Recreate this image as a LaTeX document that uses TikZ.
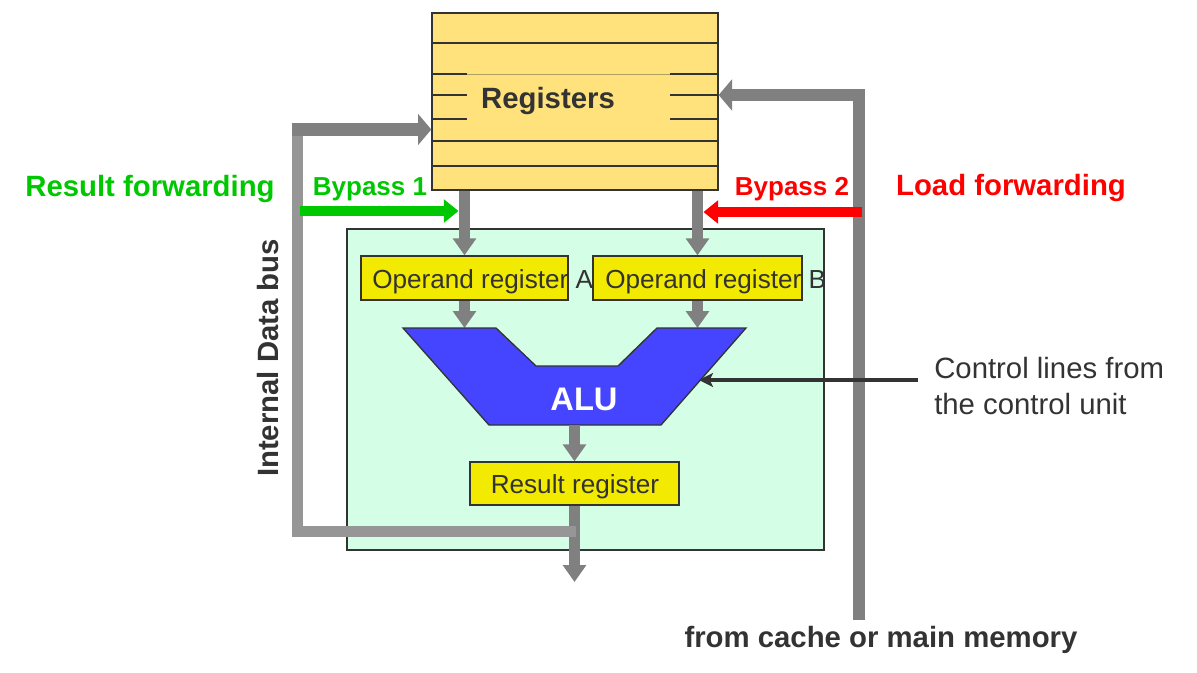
\documentclass[tikz,border=0pt]{standalone}
\usepackage{fontspec}
\setmainfont{Liberation Sans}
\usetikzlibrary{arrows.meta}
\definecolor{regfill}{HTML}{FFE27C}
\definecolor{regedge}{HTML}{B0A060}
\definecolor{opfill}{HTML}{F2EA00}
\definecolor{unitfill}{HTML}{D4FFE6}
\definecolor{alufill}{HTML}{4545FF}
\definecolor{pathgray}{HTML}{808080}
\definecolor{busgray}{HTML}{969696}
\definecolor{txtdark}{HTML}{333333}
\definecolor{fwdgreen}{HTML}{00C800}
\definecolor{fwdred}{HTML}{FF0000}
\newcommand\lblfont{\fontsize{22pt}{27pt}\selectfont\bfseries}
\newcommand\bypfont{\fontsize{19.5pt}{23pt}\selectfont\bfseries}
\newcommand\opfont{\fontsize{19.6pt}{23pt}\selectfont}
\newcommand\ctlfont{\fontsize{22pt}{27pt}\selectfont}
\newcommand\alufont{\fontsize{24.5pt}{29pt}\selectfont\bfseries}

\begin{document}
\begin{tikzpicture}[x=0.75pt,y=-0.75pt,
  box/.style={draw=txtdark,line width=1pt,inner sep=0pt},
  opbox/.style={box,fill=opfill,minimum height=33pt},
  regline/.style={draw=txtdark,line width=1.5pt},
  optxt/.style={txtdark,font=\opfont,inner sep=0pt},
  garrow/.style={draw=pathgray,line width=8.5pt,-{Triangle[width=17pt,length=12.75pt]}},
  inarrow/.style={draw=pathgray,line width=9.5pt,-{Triangle[width=23pt,length=10pt]}},
  bus/.style={draw=busgray,line width=8.25pt},
  fwd/.style={line width=7.5pt,-{Triangle[width=17pt,length=11pt]}},
  ctl/.style={draw=txtdark,line width=3pt,-{Stealth[length=10.5pt,width=10.5pt,inset=2.5pt]}}]
  \useasboundingbox (0,0) rectangle (1197,672);
  % execution unit
  \node[box,fill=unitfill,minimum width=357.75pt,minimum height=240.75pt] (unit) at (585.5,389.5) {};
  % register file
  \node[box,fill=regfill,minimum width=214.5pt,minimum height=132.75pt] (regs) at (575,101.5) {};
  \foreach \y in {43,141,166} {\draw[regline] (regs.west |- 0,\y) -- (regs.east |- 0,\y);}
  \foreach \y in {74,95,119} {\draw[regline] (regs.west |- 0,\y) -- (467,\y) (670,\y) -- (regs.east |- 0,\y);}
  \draw[draw=regedge,line width=0.6pt] (467,74) -- (670,74);
  \node[txtdark,font=\lblfont,anchor=base] (regtxt) at (548,108) {Registers};
  % operands
  \node[opbox,minimum width=155.25pt] (opA) at (464.5,278) {};
  \node[opbox,minimum width=156.75pt] (opB) at (697.5,278) {};
  \draw[garrow] (opA.north |- regs.south) -- (opA.north);
  \draw[garrow] (opB.north |- regs.south) -- (opB.north);
  \node[optxt,anchor=base west] (opAtxt) at (372,288) {Operand register A};
  \node[optxt,anchor=base west] (opBtxt) at (605,288) {Operand register B};
  % alu
  \coordinate (aluTL) at (403,328);
  \coordinate (aluBL) at (489,425);
  \coordinate (aluR) at (699,380);
  \draw[garrow] (opA.south) -- (opA.south |- aluTL);
  \draw[garrow] (opB.south) -- (opB.south |- aluTL);
  \draw[draw=txtdark,line width=1pt,fill=alufill] (aluTL) -- (496,328) -- (536,366) -- (618,366)
    -- (657,328) -- (746,328) -- (661,425) -- (aluBL) -- cycle;
  \node[white,font=\alufont,anchor=base] (alutxt) at (584,410) {ALU};
  % result
  \node[box,fill=opfill,minimum width=156.75pt,minimum height=32.25pt] (res) at (574.5,483.5) {};
  \node[optxt,anchor=base] (restxt) at (575,493) {Result register};
  \coordinate (out) at (574.5,582);
  \draw[garrow] (res.north |- aluBL) -- (res.north);
  \draw[garrow] (res.south) -- (out);
  % internal bus
  \coordinate (busR) at (576,531);
  \coordinate (busL) at (297,531);
  \coordinate (busT) at (297,125);
  \coordinate (busIn) at (291.5,129.5);
  \draw[bus] (busR) -- (busL) -- (busT);
  \draw[inarrow] (busIn) -- (busIn -| regs.west);
  % memory side
  \coordinate (memB) at (859,620);
  \coordinate (memT) at (859,95);
  \draw[inarrow] (memB) -- (memT) -- (memT -| regs.east);
  % bypasses
  \coordinate (rfIn) at (300,211);
  \coordinate (ldIn) at (862,212);
  \coordinate (bpA) at ([xshift=-4.5pt]opA.north);
  \coordinate (bpB) at ([xshift=4.5pt]opB.north);
  \draw[fwd,draw=fwdgreen,fill=fwdgreen] (rfIn) -- (bpA |- rfIn);
  \draw[fwd,draw=fwdred,fill=fwdred] (ldIn) -- (bpB |- ldIn);
  \coordinate (ctlIn) at (918,380);
  \draw[ctl] (ctlIn) -- (aluR);
  % labels
  \node[fwdgreen,font=\bypfont,anchor=base] (byp1) at (370,195) {Bypass 1};
  \node[fwdred,font=\bypfont,anchor=base] (byp2) at (792,195) {Bypass 2};
  \node[fwdgreen,font=\lblfont,anchor=base] (rfwd) at (150,196) {Result forwarding};
  \node[fwdred,font=\lblfont,anchor=base] (lfwd) at (1011,195) {Load forwarding};
  \node[txtdark,font=\lblfont,anchor=base,rotate=90] (bustxt) at (278,358) {Internal Data bus};
  \node[txtdark,font=\ctlfont,anchor=base west,inner sep=0pt] (ctl1) at (934,378) {Control lines from};
  \node[txtdark,font=\ctlfont,anchor=base west,inner sep=0pt] (ctl2) at (934,414) {the control unit};
  \node[txtdark,font=\lblfont,anchor=base] (memtxt) at (881,647) {from cache or main memory};
\end{tikzpicture}
\end{document}
